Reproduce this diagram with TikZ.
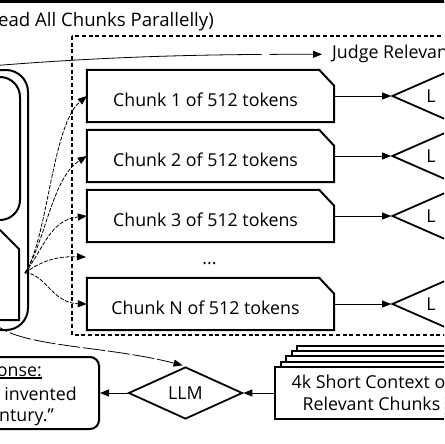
\documentclass[tikz,border=0pt]{standalone}
\usepackage{fontspec}
\setmainfont{Open Sans}
\usetikzlibrary{shapes.geometric,arrows.meta}
\begin{document}
\begin{tikzpicture}[x=1pt,y=-1pt,
  every node/.style={font=\fontsize{17.8}{22}\selectfont},
  thickbox/.style={line width=2pt},
  tipped/.style={-{Triangle[length=9pt,width=7pt]}},
  fanline/.style={tipped, line width=0.8pt, dash pattern=on 4pt off 1.5pt},
  longdash/.style={tipped, line width=0.8pt, dash pattern=on 22pt off 3pt},
  chunkbox/.style={rectangle, inner sep=0pt, minimum width=247pt, minimum height=52pt, text height=20pt, text depth=0pt},
  smalldiamond/.style={diamond, draw, line width=1.8pt, inner sep=0pt, aspect=2, minimum width=104pt, minimum height=46pt},
  bigdiamond/.style={diamond, draw, line width=1.8pt, inner sep=0pt, aspect=2, minimum width=114pt, minimum height=52pt},
  plain/.style={inner sep=0pt},
  solidarrow/.style={tipped, line width=1pt}
]
\useasboundingbox (0,0) rectangle (444,444);
\clip (0,0) rectangle (444,444);

% top border line
\draw[line width=2.6pt] (-5,1.3) -- (450,1.3);
\node[plain, anchor=base east, font=\fontsize{18.6}{22}\selectfont] (title) at (214,27) {(Read All Chunks Parallelly)};

% dashed frame
\draw[line width=2pt, dash pattern=on 4pt off 2.7pt] (72,36) rectangle (470,335);

% left shapes
\draw[thickbox, rounded corners=22pt] (-30,70) -- (28,70) -- (28,330) -- (-30,330);
\draw[thickbox, rounded corners=20pt] (-30,77) -- (20,77) -- (20,220) -- (-30,220);
\draw[thickbox] (-30,230) -- (0,230) -- (19,249) -- (19,320) -- (-30,320);

% judge relevance
\node[plain, anchor=base west] (judge) at (332,59) {Judge Relevance};
\coordinate (jstart) at (-10,66);
\draw[tipped, line width=0.8pt, dash pattern=on 272pt off 8pt, shorten >=10pt] (jstart) .. controls (90,58) and (180,54) .. (judge.west);

% chunks
\coordinate (fan) at (25,273);
\foreach \i/\y in {1/96, 2/156, 3/216, N/304} {
  \node[chunkbox] (c\i) at (210.5,\y) {\hspace*{-10pt}Chunk \i{} of 512 tokens};
  \draw[thickbox] (c\i.south west) -- (c\i.north west) -- ([xshift=-15pt]c\i.north east) -- ([yshift=-16pt]c\i.north east) -- (c\i.south east) -- cycle;
  \node[smalldiamond] (d\i) at (444,\y) {\hspace*{-26pt}L};
  \draw[solidarrow] (c\i.east) -- (d\i.west);
}
\node[plain, anchor=base] (dots) at (209.5,264) {...};
\coordinate (dotsin) at (86,257);

\draw[fanline] (fan) .. controls (48,238) and (52,125) .. (c1.west);
\draw[fanline] (fan) .. controls (46,240) and (52,178) .. (c2.west);
\draw[fanline] (fan) .. controls (44,248) and (50,220) .. (c3.west);
\draw[fanline] (fan) .. controls (40,262) and (55,256) .. (dotsin);
\draw[fanline] (fan) .. controls (45,273) and (52,303) .. (cN.west);

% bottom LLM
\node[bigdiamond] (llm) at (185.5,393) {LLM};
\coordinate (qstart) at (-10,318);
\draw[longdash, shorten >=3pt] (qstart) .. controls (8,348) and (100,344) .. (llm.north);

% response box
\node[draw, thickbox, rounded corners=9pt, minimum width=130pt, minimum height=72pt] (resp) at (34,393) {};
\node[plain, anchor=base east] (r1) at (42,376) {Response:};
\draw[line width=1.3pt] ([yshift=-2pt]r1.base west) -- ([yshift=-2pt]r1.base east);
\node[plain, anchor=base east] (r2) at (77,400) {invented};
\node[plain, anchor=base east] (r3) at (54,421) {century.”};
\draw[solidarrow] (llm.west) -- (resp.east);

% stacked context
\foreach \k in {4,3,2,1} {
  \draw[thickbox, fill=white] (275+5.6*\k, 367-5.3*\k) rectangle (468+5.6*\k, 419-5.3*\k);
}
\node[draw, thickbox, fill=white, inner sep=0pt, minimum width=193pt, minimum height=52pt, align=center] (ctx) at (371.5,393) {4k Short Context of\\Relevant Chunks};
\draw[solidarrow] (ctx.west) -- (llm.east);
\end{tikzpicture}
\end{document}
